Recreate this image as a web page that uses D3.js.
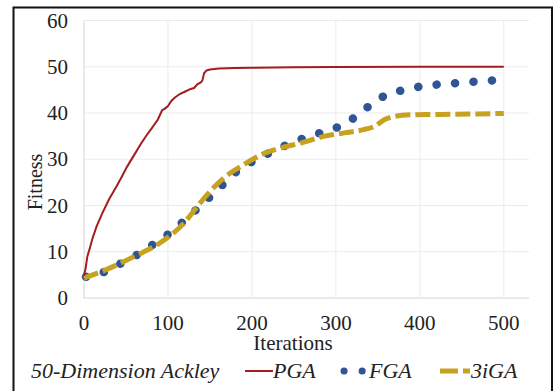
<!DOCTYPE html>
<html>
  <head>
    <style>
    body {
      margin: 0;
      background: #fff;
    }
    </style>
  </head>
  <body>
    <script src="https://d3js.org/d3.v7.min.js"></script>
    <script>
    var width = 555, height = 391;
    var serif = "'Liberation Serif', 'Times New Roman', Times, 'DejaVu Serif', serif";

    // data
    var pgaIter = [0, 2, 4, 7, 10, 15, 22, 30, 39, 45, 51, 60, 68, 75, 81, 88, 93, 96, 100, 104, 108, 114, 120, 127, 131, 135, 139, 141, 143, 146, 150, 161, 180, 200, 250, 300, 400, 500];
    var pgaFit  = [4.8, 6.5, 9.0, 10.8, 12.8, 15.5, 18.4, 21.4, 24.2, 26.2, 28.3, 31.0, 33.4, 35.3, 36.8, 38.6, 40.6, 40.9, 41.5, 42.6, 43.3, 44.1, 44.6, 45.2, 45.4, 46.2, 46.6, 47.0, 48.6, 49.2, 49.4, 49.6, 49.75, 49.8, 49.9, 49.95, 50, 50];

    var fgaIter = [0, 22, 42, 60, 79, 96, 113, 129, 145, 161, 176, 193, 212, 231, 250, 270, 291, 311, 328, 344, 361, 382, 403, 424, 446, 468, 490];
    var fgaFit  = [4.5, 5.5, 7.3, 9.0, 11.2, 13.2, 15.7, 18.3, 21.0, 23.7, 26.5, 28.7, 30.6, 32.2, 33.8, 35.0, 36.3, 37.6, 39.9, 42.1, 44.0, 45.0, 45.8, 46.2, 46.5, 46.8, 47.1];

    var igaIter = [0, 26, 60, 93, 119, 135, 152, 169, 190, 215, 236, 258, 287, 310, 333, 346, 358, 371, 388, 425, 500];
    var igaFit  = [4.3, 6.1, 9.0, 12.2, 16.2, 19.8, 23.4, 26.3, 28.8, 31.3, 32.5, 33.5, 35.0, 35.7, 36.4, 37.1, 38.6, 39.3, 39.6, 39.7, 39.9];

    var xTicks = [0, 100, 200, 300, 400, 500];
    var yTicks = [0, 10, 20, 30, 40, 50, 60];

    var svg = d3.select("body").append("svg")
        .attr("width", width)
        .attr("height", height)
        .attr("font-family", serif);

    // outer frame
    svg.append("rect")
        .attr("x", 13.5).attr("y", 7.5)
        .attr("width", 538.5).attr("height", 400)
        .attr("fill", "none")
        .attr("stroke", "#111")
        .attr("stroke-width", 2);

    var x = d3.scaleLinear().domain([0, 530]).range([84, 529]);
    var y = d3.scaleLinear().domain([0, 60]).range([298, 20.5]);

    // grid
    svg.append("g").selectAll("line.h").data(yTicks).enter().append("line")
        .attr("x1", x(0)).attr("x2", x(530))
        .attr("y1", function(d){ return y(d); }).attr("y2", function(d){ return y(d); })
        .attr("stroke", function(d){ return d === 0 ? "#d4d4d4" : "#ebebeb"; })
        .attr("stroke-width", 1);
    svg.append("g").selectAll("line.v").data(xTicks).enter().append("line")
        .attr("y1", y(0)).attr("y2", y(60))
        .attr("x1", function(d){ return x(d); }).attr("x2", function(d){ return x(d); })
        .attr("stroke", function(d){ return d === 0 ? "#d4d4d4" : "#ebebeb"; })
        .attr("stroke-width", 1);

    // tick labels
    svg.append("g").selectAll("text").data(yTicks).enter().append("text")
        .attr("x", 68).attr("y", function(d){ return y(d) + 7; })
        .attr("text-anchor", "end")
        .attr("font-size", 21)
        .attr("fill", "#222")
        .text(function(d){ return d; });
    svg.append("g").selectAll("text").data(xTicks).enter().append("text")
        .attr("x", function(d){ return x(d); }).attr("y", 330)
        .attr("text-anchor", "middle")
        .attr("font-size", 21)
        .attr("fill", "#222")
        .text(function(d){ return d; });

    svg.append("text")
        .attr("x", 293).attr("y", 350)
        .attr("text-anchor", "middle")
        .attr("font-size", 21)
        .attr("fill", "#222")
        .text("Iterations");
    svg.append("text")
        .attr("transform", "translate(42,182) rotate(-90)")
        .attr("text-anchor", "middle")
        .attr("font-size", 20)
        .attr("fill", "#222")
        .text("Fitness");

    var line = d3.line()
        .x(function(d){ return x(d[0]); })
        .y(function(d){ return y(d[1]); })
        .curve(d3.curveMonotoneX);

    var pga = d3.zip(pgaIter, pgaFit),
        fga = d3.zip(fgaIter, fgaFit),
        iga = d3.zip(igaIter, igaFit);

    svg.append("path").datum(fga)
        .attr("d", line)
        .attr("fill", "none")
        .attr("stroke", "#2f5597")
        .attr("stroke-width", 8.5)
        .attr("stroke-linecap", "round")
        .attr("stroke-dasharray", "0.1,18.4")
        .attr("stroke-dashoffset", -2);

    svg.append("path").datum(iga)
        .attr("d", line)
        .attr("fill", "none")
        .attr("stroke", "#c7a21f")
        .attr("stroke-width", 5)
        .attr("stroke-dasharray", "15,5");

    svg.append("path").datum(pga)
        .attr("d", d3.line().x(function(d){ return x(d[0]); }).y(function(d){ return y(d[1]); }))
        .attr("fill", "none")
        .attr("stroke", "#a31d20")
        .attr("stroke-width", 2);

    // legend
    var ly = 371;
    svg.append("text")
        .attr("x", 31).attr("y", ly + 7)
        .attr("font-size", 22).attr("font-style", "italic")
        .attr("fill", "#222")
        .text("50-Dimension Ackley");

    svg.append("line")
        .attr("x1", 245).attr("x2", 273).attr("y1", ly).attr("y2", ly)
        .attr("stroke", "#a31d20").attr("stroke-width", 2);
    svg.append("text")
        .attr("x", 273).attr("y", ly + 7)
        .attr("font-size", 22).attr("font-style", "italic")
        .attr("fill", "#222")
        .text("PGA");

    svg.append("line")
        .attr("x1", 344).attr("x2", 363).attr("y1", ly).attr("y2", ly)
        .attr("stroke", "#2f5597").attr("stroke-width", 7)
        .attr("stroke-linecap", "round").attr("stroke-dasharray", "0.1,18");
    svg.append("text")
        .attr("x", 369).attr("y", ly + 7)
        .attr("font-size", 22).attr("font-style", "italic")
        .attr("fill", "#222")
        .text("FGA");

    svg.append("line")
        .attr("x1", 440).attr("x2", 470).attr("y1", ly).attr("y2", ly)
        .attr("stroke", "#c7a21f").attr("stroke-width", 5)
        .attr("stroke-dasharray", "18,5");
    svg.append("text")
        .attr("x", 471).attr("y", ly + 7)
        .attr("font-size", 22).attr("font-style", "italic")
        .attr("fill", "#222")
        .text("3iGA");
    </script>
  </body>
</html>
